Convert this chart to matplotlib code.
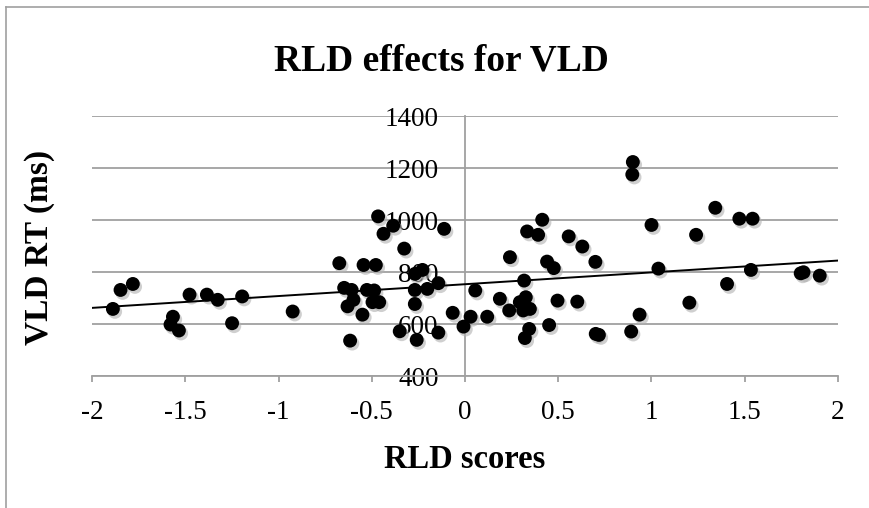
import numpy as np
import matplotlib
matplotlib.use("Agg")
import matplotlib.pyplot as plt
from matplotlib.lines import Line2D
import matplotlib.transforms as mtransforms

rld_scores = [-1.888, -1.847, -1.781, -1.566, -1.579, -1.534, -1.477, -1.384, -1.326, -1.195,
              -1.249, -0.924, -0.674, -0.648, -0.608, -0.630, -0.598, -0.616, -0.550, -0.544,
              -0.478, -0.526, -0.487, -0.496, -0.460, -0.466, -0.437, -0.385, -0.326, -0.350,
              -0.269, -0.269, -0.259, -0.268, -0.228, -0.202, -0.143, -0.143, -0.112, -0.066,
              -0.008, 0.030, 0.055, 0.119, 0.187, 0.241, 0.237, 0.317, 0.294, 0.326,
              0.312, 0.348, 0.333, 0.392, 0.414, 0.344, 0.321, 0.440, 0.476, 0.496,
              0.451, 0.556, 0.629, 0.602, 0.699, 0.701, 0.718, 0.900, 0.897, 0.891,
              0.936, 1.000, 1.037, 1.203, 1.239, 1.342, 1.405, 1.471, 1.542, 1.533,
              1.800, 1.815, 1.902]
vld_rt = [658, 731, 754, 628, 598, 575, 713, 713, 693, 706,
          603, 648, 834, 739, 731, 668, 693, 536, 636, 827,
          827, 731, 729, 684, 684, 1014, 947, 978, 890, 572,
          677, 731, 539, 793, 808, 735, 757, 567, 966, 643,
          590, 628, 729, 628, 697, 857, 652, 767, 684, 703,
          652, 658, 956, 943, 1001, 581, 546, 840, 815, 690,
          596, 937, 898, 686, 839, 562, 558, 1223, 1175, 571,
          636, 981, 813, 682, 943, 1047, 754, 1005, 1005, 808,
          795, 799, 786]

# linear trendline as shown in the chart
trend_slope = 45.5
trend_intercept = 753

x_ticks = [-2, -1.5, -1, -0.5, 0, 0.5, 1, 1.5, 2]
x_tick_labels = ["-2", "-1.5", "-1", "-0.5", "0", "0.5", "1", "1.5", "2"]
y_ticks = [400, 600, 800, 1000, 1200, 1400]
y_tick_labels = ["400", "600", "800", "1000", "1200", "1400"]

title = "RLD effects for VLD"
x_label = "RLD scores"
y_label = "VLD RT (ms)"

plt.rcParams['font.family'] = ['Liberation Serif', 'DejaVu Serif']

W, H = 870, 508
fig = plt.figure(figsize=(W / 100, H / 100), dpi=100)
fig.patch.set_facecolor('white')

grey = '#a0a0a0'
# outer chart frame (left and top edges visible)
fig.add_artist(Line2D([6 / W, 6 / W], [0, 1 - 7 / H], color=grey, lw=1.2, transform=fig.transFigure))
fig.add_artist(Line2D([6 / W, 1], [1 - 7 / H, 1 - 7 / H], color=grey, lw=1.2, transform=fig.transFigure))

left, right, top, bottom = 92, 838, 116, 376
ax = fig.add_axes([left / W, 1 - bottom / H, (right - left) / W, (bottom - top) / H])
ax.set_xlim(-2, 2)
ax.set_ylim(400, 1400)

ax.set_yticks(y_ticks)
ax.set_yticklabels(y_tick_labels)
ax.set_xticks(x_ticks)
ax.set_xticklabels(x_tick_labels)

ax.grid(axis='y', color=grey, lw=1.3, zorder=0)
ax.set_axisbelow(True)

for s in ['top', 'right']:
    ax.spines[s].set_visible(False)
ax.spines['left'].set_position(('data', 0))
ax.spines['left'].set_color(grey)
ax.spines['left'].set_linewidth(1.3)
ax.spines['bottom'].set_color(grey)
ax.spines['bottom'].set_linewidth(1.3)

ax.tick_params(axis='x', direction='out', length=4.5, width=1.3, color=grey,
               labelsize=19.5, pad=13)
ax.tick_params(axis='y', length=0, labelsize=19.5, pad=19)

# shadow
shadow_tr = mtransforms.offset_copy(ax.transData, fig=fig, x=1.5, y=-2.0, units='points')
ax.scatter(rld_scores, vld_rt, s=105, color='#b0b0b0', alpha=0.6, edgecolors='none',
           transform=shadow_tr, zorder=3)
ax.scatter(rld_scores, vld_rt, s=100, color='black', edgecolors='none', zorder=4)

xs = np.array([-2, 2])
ax.plot(xs, trend_intercept + trend_slope * xs, color='black', lw=1.4, zorder=5)

fig.text(441 / W, 1 - 61 / H, title, ha='center', va='center', fontsize=27, fontweight='bold')
fig.text(465 / W, 1 - 460 / H, x_label, ha='center', va='center', fontsize=23.5, fontweight='bold')
fig.text(40 / W, 1 - 247 / H, y_label, ha='center', va='center', rotation=90, fontsize=24,
         fontweight='bold')

fig.savefig('out.png', dpi=100)
